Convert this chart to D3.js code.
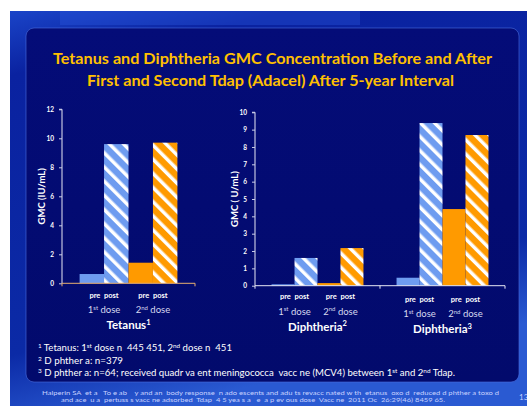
<!DOCTYPE html>
<html>
<head>
<meta charset="utf-8">
<script src="https://cdn.jsdelivr.net/npm/d3@7"></script>
<style>
  body { margin: 0; background: #fff; }
  text { font-family: Lato, "Open Sans", sans-serif; }
</style>
</head>
<body>
<div id="chart"></div>
<script>
// data
const barKeys = ["pre1", "post1", "pre2", "post2"];
const tetanusCats = ["Tetanus"];
const tetanusValues = [[0.64, 9.6, 1.42, 9.7]];
const tetanusTicks = [0, 2, 4, 6, 8, 10, 12];
const diphCats = ["Diphtheria2", "Diphtheria3"];
const diphNames = ["Diphtheria", "Diphtheria"];
const diphSups = ["2", "3"];
const diphValues = [[0.08, 1.6, 0.15, 2.17], [0.46, 9.38, 4.42, 8.69]];
const diphTicks = [0, 1, 2, 3, 4, 5, 6, 7, 8, 9, 10];

const titleLines = [
  "Tetanus and Diphtheria GMC Concentration Before and After",
  "First and Second Tdap (Adacel) After 5-year Interval"
];

const W = 527, H = 406;
const svg = d3.select("#chart").append("svg").attr("width", W).attr("height", H);
const defs = svg.append("defs");

// slide background
const bg = defs.append("linearGradient").attr("id", "bg").attr("x1", 0).attr("y1", 0).attr("x2", 0.3).attr("y2", 1);
bg.append("stop").attr("offset", "0%").attr("stop-color", "#1a44c8");
bg.append("stop").attr("offset", "15%").attr("stop-color", "#0a22a0");
bg.append("stop").attr("offset", "80%").attr("stop-color", "#0b2aa6");
bg.append("stop").attr("offset", "100%").attr("stop-color", "#2a5ad2");
svg.append("rect").attr("x", 10).attr("y", 11).attr("width", W - 10).attr("height", H - 11).attr("fill", "url(#bg)");
svg.append("rect").attr("x", 60).attr("y", 11).attr("width", 300).attr("height", 14)
  .attr("fill", "#2a5ae0").attr("opacity", 0.35);

const pg = defs.append("linearGradient").attr("id", "panel").attr("x1", 0).attr("y1", 0).attr("x2", 0).attr("y2", 1);
pg.append("stop").attr("offset", "0%").attr("stop-color", "#040c78");
pg.append("stop").attr("offset", "100%").attr("stop-color", "#020a6c");
svg.append("rect").attr("x", 26).attr("y", 28).attr("width", 493).attr("height", 354).attr("rx", 8)
  .attr("fill", "url(#panel)").attr("stroke", "#4a6ee0").attr("stroke-opacity", 0.6).attr("stroke-width", 1);

// hatch patterns
const blue = "#6e9cf0", orange = "#ff9a00";
function hatch(id, color) {
  const p = defs.append("pattern").attr("id", id).attr("patternUnits", "userSpaceOnUse")
    .attr("width", 10).attr("height", 10).attr("patternTransform", "rotate(-45)");
  p.append("rect").attr("width", 10).attr("height", 10).attr("fill", color);
  p.append("rect").attr("width", 3.5).attr("height", 10).attr("fill", "#fff");
}
hatch("hBlue", blue);
hatch("hOrange", orange);
const barFill = { pre1: blue, post1: "url(#hBlue)", pre2: orange, post2: "url(#hOrange)" };

// title
svg.selectAll(".title").data(titleLines).join("text")
  .attr("x", (d, i) => i ? 270.5 : 272.5)
  .attr("y", (d, i) => 64 + i * 22)
  .attr("text-anchor", "middle")
  .attr("fill", "#ffc000").attr("font-weight", "bold").attr("font-size", 16)
  .attr("textLength", (d, i) => i ? 367 : 439).attr("lengthAdjust", "spacingAndGlyphs")
  .text(d => d);

function doseText(g, x, y, sup) {
  const t = g.append("text").attr("x", x).attr("y", y).attr("text-anchor", "middle")
    .attr("fill", "#d6d8ee").attr("font-size", 9.5);
  t.append("tspan").text(sup === "st" ? "1" : "2");
  t.append("tspan").attr("font-size", 6).attr("dy", -3.5).text(sup);
  t.append("tspan").attr("dy", 3.5).text(" dose");
}

function drawChart(cats, values, range, y, ticks, yTitle, yTitleX, labelShift) {
  const g = svg.append("g");
  const x0 = d3.scaleBand().domain(cats).range(range).padding(0);
  const x1 = d3.scaleBand().domain(barKeys).range([0, x0.bandwidth()]).paddingInner(0).paddingOuter(0.72);

  // y axis
  const ya = g.append("g").attr("transform", `translate(${range[0]},0)`)
    .call(d3.axisLeft(y).tickValues(ticks).tickSize(3).tickPadding(5).tickFormat(d3.format("d")));
  ya.select(".domain").attr("stroke", "#e8e8f4").attr("d", `M-3,${y.range()[1]}H0V${y.range()[0]}`);
  ya.selectAll(".tick line").attr("stroke", "#c8cce8");
  ya.selectAll(".tick text").attr("fill", "#fff").attr("font-weight", "bold").attr("font-size", 6.5)
    .attr("font-family", "Lato, sans-serif");

  g.append("text").attr("transform", `translate(${yTitleX},${(y.range()[0] + y.range()[1]) / 2}) rotate(-90)`)
    .attr("text-anchor", "middle").attr("fill", "#fff").attr("font-weight", "bold").attr("font-size", 9.5)
    .text(yTitle);

  // bars
  cats.forEach((c, ci) => {
    const bg = g.append("g").attr("transform", `translate(${x0(c)},0)`);
    bg.selectAll("rect").data(barKeys.map((k, i) => ({ k, v: values[ci][i] }))).join("rect")
      .attr("x", d => x1(d.k)).attr("width", x1.bandwidth())
      .attr("y", d => y(d.v)).attr("height", d => y(0) - y(d.v))
      .attr("fill", d => barFill[d.k]);

    const dy = labelShift[ci];
    [["pre1", "post1", "st"], ["pre2", "post2", "nd"]].forEach(([a, b, sup]) => {
      bg.append("text").attr("x", x1(b)).attr("y", 297.5 + dy).attr("text-anchor", "middle")
        .attr("fill", "#fff").attr("font-weight", "bold").attr("font-size", 7.5).text("pre  post")
        .attr("xml:space", "preserve");
      doseText(bg, x1(b), 313 + dy, sup);
    });
  });

  // x axis
  g.append("path").attr("fill", "none").attr("stroke", cats.length === 1 ? "#e8b070" : "#e8e8f4")
    .attr("d", `M${range[0]},${y(0)}H${range[1]}` + cats.map(c => `M${x0(c)},${y(0)}v3`).join("") + `M${range[1]},${y(0)}v3`);
  return x0;
}

const yT = d3.scaleLinear().domain([0, 12]).range([283.3, 109.3]);
const xT = drawChart(tetanusCats, tetanusValues, [62, 195], yT, tetanusTicks, "GMC (IU/mL)", 45, [0]);
const yD = d3.scaleLinear().domain([0, 10]).range([285.7, 112.3]);
const xD = drawChart(diphCats, diphValues, [255, 505], yD, diphTicks, "GMC ( U/mL)", 238, [1.5, 4]);

// category names
function catName(x, y, name, sup) {
  const t = svg.append("text").attr("x", x).attr("y", y).attr("text-anchor", "middle")
    .attr("fill", "#fff").attr("font-weight", "bold").attr("font-size", 11.5);
  t.append("tspan").text(name);
  t.append("tspan").attr("font-size", 7.5).attr("dy", -4.5).text(sup);
}
catName(xT("Tetanus") + xT.bandwidth() / 2, 329, "Tetanus", "1");
diphCats.forEach((c, i) => catName(xD(c) + xD.bandwidth() / 2, i ? 333 : 330.5, diphNames[i], diphSups[i]));

// footnotes
const foot = svg.append("g").attr("fill", "#fff").attr("font-size", 9);
function footLine(y, parts, len) {
  const t = foot.append("text").attr("x", 38).attr("y", y).attr("xml:space", "preserve");
  parts.forEach(p => {
    const s = t.append("tspan").text(p[0]);
    if (p[1] === "sup") s.attr("font-size", 6).attr("baseline-shift", "super");
  });
  if (len) t.attr("textLength", len).attr("lengthAdjust", "spacingAndGlyphs");
}
footLine(351, [["1", "sup"], [" Tetanus: 1"], ["st", "sup"], [" dose n  445 451, 2"], ["nd", "sup"], [" dose n  451"]], 194);
footLine(364, [["2", "sup"], [" D phther a: n=379"]], 85);
footLine(376, [["3", "sup"], [" D phther a: n=64; received quadr va ent meningococca  vacc ne (MCV4) between 1"], ["st", "sup"], [" and 2"], ["nd", "sup"], [" Tdap."]], 417);

// citation
const cite = svg.append("g").attr("fill", "#c8d2ff").attr("font-size", 6);
cite.append("text").attr("x", 42).attr("y", 395).attr("xml:space", "preserve")
  .attr("textLength", 457).attr("lengthAdjust", "spacingAndGlyphs")
  .text("Halperin SA  et a   To e ab    y and an  body response  n ado escents and adu ts revacc nated w th  etanus  oxo d  reduced d phther a toxo d");
cite.append("text").attr("x", 61).attr("y", 402).attr("xml:space", "preserve")
  .attr("textLength", 384).attr("lengthAdjust", "spacingAndGlyphs")
  .text("and ace  u a  pertuss s vacc ne adsorbed  Tdap  4 5 yea s a   e  a p ev ous dose  Vacc ne  2011 Oc  26:29(46) 8459 65.");
svg.append("text").attr("x", 519).attr("y", 400).attr("fill", "#c8d2ff").attr("font-size", 8).text("13");
</script>
</body>
</html>
